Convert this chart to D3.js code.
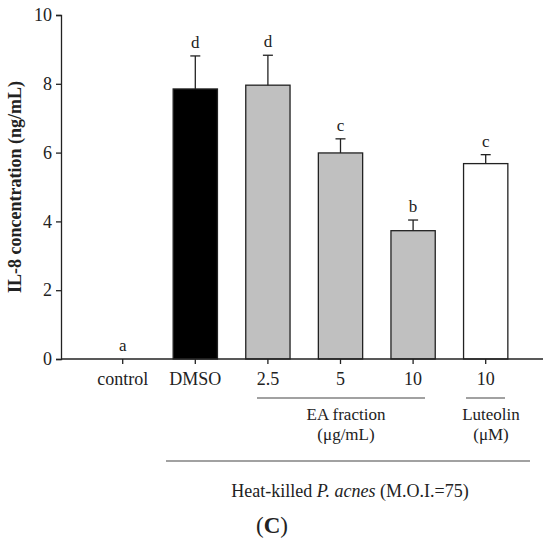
<!DOCTYPE html>
<html>
<head>
<meta charset="utf-8">
<script src="https://cdn.jsdelivr.net/npm/d3@7"></script>
<style>
  body { margin: 0; background: #fff; }
  text { font-family: "Liberation Serif", "Times New Roman", serif; fill: #222; }
</style>
</head>
<body>
<div id="chart"></div>
<script>
// data
const groups = ["control", "DMSO", "2.5", "5", "10", "10 "];
const tickLabels = ["control", "DMSO", "2.5", "5", "10", "10"];
const means = [0, 7.85, 7.96, 5.99, 3.73, 5.68];
const errors = [0, 0.96, 0.87, 0.41, 0.31, 0.26];
const letters = ["a", "d", "d", "c", "b", "c"];
const fills = ["#ffffff", "#000000", "#c0c0c0", "#c0c0c0", "#c0c0c0", "#ffffff"];
const yTicks = [0, 2, 4, 6, 8, 10];

const width = 550, height = 544;

const svg = d3.select("#chart")
  .append("svg")
  .attr("width", width)
  .attr("height", height);

// scales
const x = d3.scaleBand().domain(groups).range([86.4, 522]).padding(0);
const y = d3.scaleLinear().domain([0, 10]).range([359, 15]);
const barW = x.bandwidth() * 0.61;
const cx = d => x(d) + x.bandwidth() / 2;

// bars (control has no bar)
svg.append("g")
  .selectAll("rect")
  .data(groups.filter((g, i) => means[i] > 0))
  .enter().append("rect")
  .attr("x", d => cx(d) - barW / 2)
  .attr("y", d => y(means[groups.indexOf(d)]))
  .attr("width", barW)
  .attr("height", d => y(0) - y(means[groups.indexOf(d)]))
  .attr("fill", d => fills[groups.indexOf(d)])
  .attr("stroke", "#222")
  .attr("stroke-width", 1.3);

// error bars, upper side only
const err = svg.append("g").attr("stroke", "#222").attr("stroke-width", 1.3);
groups.forEach((g, i) => {
  if (errors[i] <= 0) return;
  err.append("line")
    .attr("x1", cx(g)).attr("x2", cx(g))
    .attr("y1", y(means[i])).attr("y2", y(means[i] + errors[i]));
  err.append("line")
    .attr("x1", cx(g) - 5).attr("x2", cx(g) + 5)
    .attr("y1", y(means[i] + errors[i])).attr("y2", y(means[i] + errors[i]));
});

// significance letters
svg.append("g")
  .selectAll("text")
  .data(groups)
  .enter().append("text")
  .attr("x", d => cx(d))
  .attr("y", (d, i) => y(means[i] + errors[i]) - 8)
  .attr("text-anchor", "middle")
  .attr("font-size", 17)
  .text((d, i) => letters[i]);

// y axis
const yAxis = svg.append("g")
  .attr("transform", "translate(61,0)")
  .call(d3.axisLeft(y).tickValues(yTicks).tickSize(5).tickPadding(4));
yAxis.selectAll("text").attr("font-size", 18).attr("font-family", "Liberation Serif");
yAxis.select(".domain").attr("stroke", "#222").attr("stroke-width", 1.3);
yAxis.selectAll(".tick line").attr("stroke", "#222").attr("stroke-width", 1.3);

// x axis
const xAxis = svg.append("g")
  .attr("transform", "translate(0,359)")
  .call(d3.axisBottom(x).tickSize(5).tickPadding(8).tickSizeOuter(0)
    .tickFormat((d, i) => tickLabels[i]));
xAxis.select(".domain").remove();
xAxis.append("line")
  .attr("x1", 61).attr("x2", 543)
  .attr("stroke", "#222").attr("stroke-width", 1.3);
xAxis.selectAll(".tick line").attr("stroke", "#222").attr("stroke-width", 1.3);
xAxis.selectAll("text").attr("font-size", 18).attr("font-family", "Liberation Serif");

// y title
svg.append("text")
  .attr("transform", "translate(21,187) rotate(-90)")
  .attr("text-anchor", "middle")
  .attr("font-size", 18)
  .attr("font-weight", "bold")
  .text("IL-8 concentration (ng/mL)");

// group brackets below axis
const under = svg.append("g").attr("stroke", "#444").attr("stroke-width", 1.2);
under.append("line").attr("x1", 257).attr("x2", 425).attr("y1", 398).attr("y2", 398);
under.append("line").attr("x1", 466).attr("x2", 505).attr("y1", 398).attr("y2", 398);
under.append("line").attr("x1", 166).attr("x2", 530).attr("y1", 461).attr("y2", 461);

const notes = svg.append("g").attr("font-size", 17).attr("text-anchor", "middle");
notes.append("text").attr("x", 346).attr("y", 420).text("EA fraction");
notes.append("text").attr("x", 346).attr("y", 439.5).text("(μg/mL)");
notes.append("text").attr("x", 491).attr("y", 420).text("Luteolin");
notes.append("text").attr("x", 491).attr("y", 439.5).text("(μM)");

const heat = svg.append("text").attr("x", 350).attr("y", 497)
  .attr("font-size", 18).attr("text-anchor", "middle");
heat.append("tspan").text("Heat-killed ");
heat.append("tspan").attr("font-style", "italic").text("P. acnes");
heat.append("tspan").text(" (M.O.I.=75)");

const panel = svg.append("text")
  .attr("x", 272).attr("y", 533)
  .attr("text-anchor", "middle")
  .attr("font-size", 23);
panel.append("tspan").text("(");
panel.append("tspan").attr("font-weight", "bold").text("C");
panel.append("tspan").text(")");
</script>
</body>
</html>
